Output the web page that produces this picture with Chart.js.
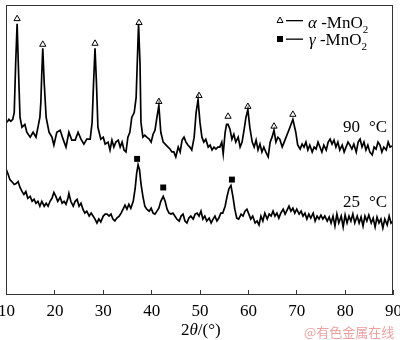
<!DOCTYPE html>
<html>
<head>
<meta charset="utf-8">
<script src="https://cdn.jsdelivr.net/npm/chart.js@4.4.1/dist/chart.umd.min.js"></script>
<style>
  html, body { margin: 0; padding: 0; background: #fff; }
  #wrap { position: relative; width: 400px; height: 340px; }
</style>
</head>
<body>
<div id="wrap"><canvas id="xrd" width="400" height="340"></canvas></div>
<script>
// ---- data (2θ in degrees, intensity in arbitrary units) ----

const theta90 = [
  10.2, 10.6, 11.0, 11.4, 11.7, 12.0, 12.3, 12.6, 12.9, 13.3, 13.9, 14.3, 15.0, 15.6, 16.2, 16.6,
  17.0, 17.2, 17.4, 17.6, 17.9, 18.3, 18.9, 19.5, 19.9, 20.5, 21.2, 21.8, 22.4, 23.0, 23.6, 24.3,
  24.9, 25.5, 26.1, 26.7, 27.4, 27.8, 28.1, 28.4, 28.7, 29.0, 29.6, 30.1, 30.5, 31.1, 31.5, 31.9,
  32.3, 32.7, 33.2, 33.6, 34.0, 34.4, 34.8, 35.2, 35.6, 36.0, 36.5, 36.9, 37.2, 37.4, 37.7, 37.9,
  38.3, 38.7, 39.1, 39.6, 40.0, 40.4, 40.8, 41.2, 41.6, 42.0, 42.5, 42.9, 43.5, 43.9, 44.3, 44.7,
  45.1, 45.6, 46.0, 46.4, 46.8, 47.2, 47.6, 48.0, 48.4, 48.9, 49.3, 49.7, 50.1, 50.5, 50.9, 51.3,
  51.8, 52.2, 52.6, 53.0, 53.4, 53.8, 54.2, 54.6, 54.9, 55.3, 55.6, 55.9, 56.3, 56.7, 57.1, 57.5,
  58.0, 58.4, 58.8, 59.2, 59.6, 60.0, 60.4, 60.9, 61.3, 61.7, 62.1, 62.5, 62.9, 63.3, 63.7, 64.2,
  64.6, 65.0, 65.4, 65.8, 66.2, 66.6, 67.1, 67.5, 67.9, 68.3, 68.7, 69.3, 69.9, 70.3, 70.8, 71.2,
  71.6, 72.0, 72.4, 72.8, 73.3, 73.7, 74.1, 74.5, 74.9, 75.3, 75.7, 76.2, 76.6, 77.0, 77.4, 77.8,
  78.2, 78.6, 79.0, 79.5, 79.9, 80.3, 80.7, 81.1, 81.5, 81.9, 82.4, 82.8, 83.2, 83.6, 84.0, 84.4,
  84.8, 85.2, 85.7, 86.1, 86.5, 86.9, 87.3, 87.7, 88.1, 88.6, 89.0, 89.4, 89.8
];
const int90 = [
  175, 178, 176, 178, 185, 235, 275, 225, 180, 170, 173, 165, 160, 165, 160, 170,
  180, 195, 225, 250, 215, 180, 165, 160, 152, 165, 167, 158, 150, 165, 157, 157,
  165, 158, 153, 158, 158, 175, 215, 250, 215, 170, 158, 160, 153, 155, 147, 157,
  150, 155, 157, 150, 155, 147, 145, 160, 165, 180, 185, 200, 245, 275, 235, 175,
  160, 162, 160, 158, 155, 163, 167, 180, 192, 165, 155, 153, 150, 148, 145, 145,
  140, 150, 145, 157, 160, 155, 152, 150, 147, 160, 185, 198, 175, 160, 155, 158,
  150, 152, 147, 150, 148, 150, 150, 155, 143, 165, 173, 173, 168, 158, 163, 155,
  160, 150, 155, 167, 180, 188, 170, 155, 150, 157, 147, 153, 145, 150, 145, 140,
  155, 160, 167, 155, 160, 158, 150, 155, 160, 165, 170, 178, 165, 152, 148, 153,
  150, 155, 147, 152, 145, 150, 148, 155, 150, 145, 152, 147, 155, 158, 153, 157,
  150, 155, 147, 152, 145, 150, 155, 152, 148, 153, 145, 155, 158, 150, 155, 147,
  152, 145, 142, 150, 148, 155, 152, 145, 150, 147, 155, 150, 151
];

const theta25 = [
  10.0, 10.4, 10.8, 11.2, 11.7, 12.1, 12.5, 12.9, 13.3, 13.7, 14.1, 14.5, 15.0, 15.4, 15.8, 16.2,
  16.6, 17.0, 17.4, 17.9, 18.3, 18.7, 19.1, 19.5, 19.9, 20.3, 20.7, 21.2, 21.6, 22.0, 22.4, 22.8,
  23.0, 23.4, 23.9, 24.3, 24.7, 25.1, 25.5, 25.9, 26.3, 26.7, 27.2, 27.6, 28.0, 28.4, 28.8, 29.2,
  29.6, 30.1, 30.5, 30.9, 31.3, 31.7, 32.1, 32.5, 32.9, 33.4, 33.8, 34.2, 34.6, 35.0, 35.4, 35.8,
  36.3, 36.7, 37.0, 37.3, 37.6, 37.9, 38.3, 38.7, 39.1, 39.6, 40.0, 40.4, 40.8, 41.2, 41.6, 42.0,
  42.5, 42.9, 43.3, 43.7, 44.1, 44.5, 44.9, 45.3, 45.8, 46.2, 46.6, 47.0, 47.4, 47.8, 48.2, 48.7,
  49.1, 49.5, 49.9, 50.3, 50.7, 51.1, 51.5, 52.0, 52.4, 52.8, 53.2, 53.6, 54.0, 54.4, 54.8, 55.3,
  55.7, 56.1, 56.5, 56.9, 57.3, 57.7, 58.1, 58.6, 59.0, 59.4, 59.8, 60.2, 60.6, 61.0, 61.5, 61.9,
  62.3, 62.7, 63.1, 63.5, 64.0, 64.4, 64.8, 65.2, 65.6, 66.0, 66.4, 66.8, 67.3, 67.7, 68.1, 68.5,
  68.9, 69.3, 69.7, 70.1, 70.6, 71.0, 71.4, 71.8, 72.2, 72.6, 73.0, 73.5, 73.9, 74.3, 74.7, 75.1,
  75.5, 75.9, 76.4, 76.8, 77.2, 77.6, 78.0, 78.4, 78.8, 79.3, 79.7, 80.1, 80.5, 80.9, 81.3, 81.7,
  82.1, 82.6, 83.0, 83.4, 83.8, 84.2, 84.6, 85.0, 85.5, 85.9, 86.3, 86.7, 87.1, 87.5, 87.9, 88.3,
  88.8, 89.2, 89.6, 90.0
];
const int25 = [
  128, 123, 117, 115, 112, 113, 115, 109, 105, 102, 105, 98, 100, 95, 97, 93,
  95, 90, 95, 90, 93, 90, 95, 98, 104, 100, 95, 99, 93, 95, 92, 98,
  103, 95, 90, 95, 97, 90, 93, 87, 83, 85, 80, 83, 80, 77, 73, 77,
  74, 80, 82, 82, 80, 82, 77, 75, 78, 80, 83, 87, 91, 87, 92, 88,
  95, 108, 123, 132, 127, 113, 100, 90, 87, 85, 88, 83, 82, 85, 88, 95,
  100, 95, 87, 83, 82, 83, 80, 77, 75, 80, 82, 75, 73, 78, 80, 77,
  82, 83, 80, 85, 77, 80, 75, 78, 73, 77, 80, 75, 78, 83, 83, 90,
  100, 108, 111, 100, 87, 78, 77, 82, 80, 85, 87, 82, 77, 80, 73, 75,
  71, 80, 75, 83, 77, 82, 80, 85, 80, 83, 78, 83, 87, 82, 86, 90,
  85, 88, 83, 87, 82, 85, 80, 83, 77, 82, 78, 83, 75, 80, 77, 81,
  77, 80, 75, 79, 73, 80, 70, 82, 73, 80, 69, 81, 73, 80, 75, 82,
  73, 80, 73, 79, 70, 80, 75, 81, 73, 78, 69, 79, 73, 77, 68, 77,
  71, 80, 73, 75
];

// phase markers above the peaks
const alphaTheta = [12.3, 17.6, 28.4, 37.5, 41.6, 49.9, 55.9, 60.0, 65.4, 69.3];
const alphaInt   = [280, 254, 255, 276, 196, 202, 181, 191, 171, 183];
const gammaTheta = [37.1, 42.5, 56.7];
const gammaInt   = [138, 109, 117];

const xTicks = [10, 20, 30, 40, 50, 60, 70, 80, 90];

const SERIF = '"Liberation Serif", "Times New Roman", serif';

function pairs(xs, ys) {
    return xs.map((x, i) => ({ x: x, y: ys[i] }));
}

/* -------------------------
   FRAME, TICKS, TEXT
--------------------------*/

const decorPlugin = {
    id: "decor",
    afterDraw(chart) {
        const ctx = chart.ctx;
        const area = chart.chartArea;
        const xs = chart.scales.x;

        ctx.save();

        // frame
        ctx.strokeStyle = "#333";
        ctx.lineWidth = 1;
        ctx.strokeRect(area.left + 0.5, area.top + 0.5,
            area.right - area.left - 1, area.bottom - area.top - 1);

        // inward ticks + labels on the bottom axis
        ctx.beginPath();
        ctx.fillStyle = "#000";
        ctx.font = "17px " + SERIF;
        ctx.textAlign = "center";
        ctx.textBaseline = "alphabetic";
        xTicks.forEach(v => {
            const raw = xs.getPixelForValue(v);
            const px = Math.round(raw) + 0.5;
            ctx.moveTo(px, area.bottom);
            ctx.lineTo(px, area.bottom - 5);
            ctx.fillText(String(v), raw + 0.5, area.bottom + 21);
        });
        ctx.stroke();

        // legend
        ctx.strokeStyle = "#000";
        ctx.lineWidth = 1;

        // row 1: triangle
        ctx.beginPath();
        ctx.moveTo(280, 17);
        ctx.lineTo(283, 22.5);
        ctx.lineTo(277, 22.5);
        ctx.closePath();
        ctx.fillStyle = "#fff";
        ctx.fill();
        ctx.stroke();
        ctx.fillStyle = "#000";
        ctx.fillRect(286, 20, 17, 1.3);

        // row 2: square
        ctx.fillRect(277, 36, 6, 6);
        ctx.fillRect(286, 38.5, 17, 1.3);

        ctx.textAlign = "left";
        drawFormula(ctx, "\u03b1", 308, 28);
        drawFormula(ctx, "\u03b3", 309, 45);

        // temperature labels
        ctx.font = "17px " + SERIF;
        ctx.fillText("90", 343, 132);
        ctx.fillText("\u00b0C", 369, 132);
        ctx.fillText("25", 343, 207);
        ctx.fillText("\u00b0C", 369, 207);

        // axis title 2θ/(°)
        let x = 181;
        ctx.font = "17px " + SERIF;
        ctx.fillText("2", x, 335);
        x += ctx.measureText("2").width;
        ctx.font = "italic 17px " + SERIF;
        ctx.fillText("\u03b8", x, 335);
        x += ctx.measureText("\u03b8").width;
        ctx.font = "17px " + SERIF;
        ctx.fillText("/(\u00b0)", x, 335);

        // watermark
        ctx.fillStyle = "rgba(236, 150, 150, 0.9)";
        ctx.font = '13px "Noto Sans CJK SC", sans-serif';
        ctx.fillText("@\u6709\u8272\u91d1\u5c5e\u5728\u7ebf", 304, 337);

        ctx.restore();
    }
};

function drawFormula(ctx, greek, x, y) {
    ctx.font = "italic 17px " + SERIF;
    ctx.fillText(greek, x, y);
    x += ctx.measureText(greek).width;
    ctx.font = "17px " + SERIF;
    ctx.fillText(" -MnO", x, y);
    x += ctx.measureText(" -MnO").width;
    ctx.font = "11px " + SERIF;
    ctx.fillText("2", x, y + 5);
}

/* -------------------------
   CHART
--------------------------*/

new Chart(document.getElementById("xrd"), {
    type: "line",
    data: {
        datasets: [
            {
                label: "90 \u00b0C",
                data: pairs(theta90, int90),
                borderColor: "#000",
                borderWidth: 1.7,
                pointRadius: 0,
                tension: 0
            },
            {
                label: "25 \u00b0C",
                data: pairs(theta25, int25),
                borderColor: "#000",
                borderWidth: 1.7,
                pointRadius: 0,
                tension: 0
            },
            {
                label: "\u03b1-MnO2",
                data: pairs(alphaTheta, alphaInt),
                showLine: false,
                pointStyle: "triangle",
                pointRadius: 3.6,
                pointBackgroundColor: "#fff",
                pointBorderColor: "#000",
                pointBorderWidth: 1
            },
            {
                label: "\u03b3-MnO2",
                data: pairs(gammaTheta, gammaInt),
                showLine: false,
                pointStyle: "rect",
                pointRadius: 4.2,
                pointBackgroundColor: "#000",
                pointBorderColor: "#000",
                pointBorderWidth: 0
            }
        ]
    },
    options: {
        responsive: false,
        animation: false,
        events: [],
        layout: {
            padding: { left: 6, right: 7, top: 1, bottom: 0 }
        },
        plugins: {
            legend: { display: false },
            tooltip: { enabled: false }
        },
        scales: {
            x: {
                type: "linear",
                min: 10,
                max: 90,
                afterBuildTicks(scale) {
                    scale.ticks = xTicks.map(v => ({ value: v }));
                },
                afterFit(scale) {
                    scale.height = 45;
                },
                grid: { display: false },
                border: { display: false },
                ticks: { display: false }
            },
            y: {
                display: false,
                min: 0,
                max: 294
            }
        }
    },
    plugins: [decorPlugin]
});
</script>
</body>
</html>
